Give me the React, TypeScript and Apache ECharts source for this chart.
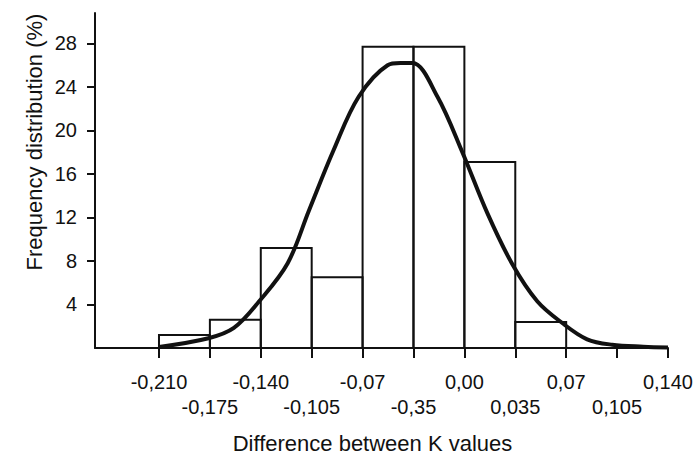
import React, { useEffect, useRef } from 'react';
import * as echarts from 'echarts';

// Histogram bins (difference between K values) and frequency (%)
const binStarts = [-0.21, -0.175, -0.14, -0.105, -0.07, -0.035, 0, 0.035];
const binEnds = [-0.175, -0.14, -0.105, -0.07, -0.035, 0, 0.035, 0.07];
const binFreq = [1.2, 2.6, 9.2, 6.5, 27.7, 27.7, 17.1, 2.4];

// Fitted distribution curve
const curveX = [-0.21, -0.176, -0.1585, -0.1414, -0.1215, -0.107, -0.0899, -0.0727, -0.0528, -0.044, -0.0357, -0.0185, -0.0014, 0.0158, 0.033, 0.0501, 0.0673, 0.0844, 0.1016, 0.123, 0.14];
const curveY = [0.1, 0.9, 1.85, 4.25, 7.8, 12.6, 18.2, 23.1, 26.0, 26.2, 26.2, 23.1, 18.0, 12.4, 7.7, 4.3, 2.3, 0.8, 0.3, 0.12, 0.05];

// Tick labels (as printed in the original)
const xTicks = [-0.21, -0.175, -0.14, -0.105, -0.07, -0.035, 0, 0.035, 0.07, 0.105, 0.14];
const upperTicks = [-0.21, -0.14, -0.07, 0, 0.07, 0.14];
const upperLabels = ['-0,210', '-0,140', '-0,07', '0,00', '0,07', '0,140'];
const lowerTicks = [-0.175, -0.105, -0.035, 0.035, 0.105];
const lowerLabels = ['-0,175', '-0,105', '-0,35', '0,035', '0,105'];
const yTicks = [4, 8, 12, 16, 20, 24, 28];

const FONT = "'Liberation Sans', Arial, Helvetica, sans-serif";
const INK = '#111';

function labelFor(v: number, ticks: number[], labels: string[]) {
  for (let i = 0; i < ticks.length; i++) {
    if (Math.abs(ticks[i] - v) < 1e-6) return labels[i];
  }
  return '';
}

export default function App() {
  const ref = useRef<HTMLDivElement>(null);

  useEffect(() => {
    if (!ref.current) return;
    const chart = echarts.init(ref.current, undefined, { renderer: 'svg' });
    const xMin = -0.254;
    const xMax = 0.14;
    chart.setOption({
      animation: false,
      backgroundColor: '#fff',
      grid: { left: 95, right: 28, top: 13, bottom: 111, containLabel: false },
      xAxis: [
        {
          type: 'value',
          min: xMin,
          max: xMax,
          position: 'bottom',
          name: 'Difference between K values',
          nameLocation: 'middle',
          nameGap: 84,
          nameTextStyle: { fontFamily: FONT, fontSize: 22, color: INK, padding: [0, 18, 0, 0] },
          axisLine: { show: true, onZero: false, lineStyle: { color: INK, width: 2 } },
          axisTick: { show: true, inside: false, length: 10, lineStyle: { color: INK, width: 2 }, customValues: xTicks },
          axisLabel: {
            show: true,
            margin: 24,
            fontFamily: FONT,
            fontSize: 20,
            color: INK,
            customValues: upperTicks,
            formatter: (v: number) => labelFor(v, upperTicks, upperLabels),
          },
          splitLine: { show: false },
        },
        {
          type: 'value',
          min: xMin,
          max: xMax,
          position: 'bottom',
          axisLine: { show: false, onZero: false },
          axisTick: { show: false },
          axisLabel: {
            show: true,
            margin: 49,
            fontFamily: FONT,
            fontSize: 20,
            color: INK,
            customValues: lowerTicks,
            formatter: (v: number) => labelFor(v, lowerTicks, lowerLabels),
          },
          splitLine: { show: false },
        },
      ],
      yAxis: {
        type: 'value',
        min: 0,
        max: 30.8,
        position: 'left',
        axisLine: { show: true, onZero: false, lineStyle: { color: INK, width: 2 } },
        axisTick: { show: true, inside: false, length: 8, lineStyle: { color: INK, width: 2 }, customValues: yTicks },
        axisLabel: {
          show: true,
          margin: 18,
          fontFamily: FONT,
          fontSize: 20,
          color: INK,
          customValues: yTicks,
        },
        splitLine: { show: false },
      },
      graphic: [
        {
          type: 'text',
          x: 34,
          y: 142,
          rotation: Math.PI / 2,
          style: {
            text: 'Frequency distribution (%)',
            font: `22px ${FONT}`,
            fill: INK,
            align: 'center',
            verticalAlign: 'middle',
          },
        },
      ],
      series: [
        {
          type: 'custom',
          name: 'Frequency',
          xAxisIndex: 0,
          encode: { x: [0, 1], y: 2 },
          data: binStarts.map((s, i) => [s, binEnds[i], binFreq[i]]),
          renderItem: (params: any, api: any) => {
            const p0 = api.coord([api.value(0), api.value(2)]);
            const p1 = api.coord([api.value(1), 0]);
            return {
              type: 'rect',
              shape: { x: p0[0], y: p0[1], width: p1[0] - p0[0], height: p1[1] - p0[1] },
              style: { fill: 'none', stroke: INK, lineWidth: 2 },
            };
          },
          z: 2,
        },
        {
          type: 'line',
          name: 'Fitted curve',
          xAxisIndex: 0,
          data: curveX.map((x, i) => [x, curveY[i]]),
          smooth: 0.35,
          symbol: 'none',
          lineStyle: { color: INK, width: 4 },
          z: 3,
        },
      ],
    });
    return () => chart.dispose();
  }, []);

  return (
    <div
      ref={ref}
      style={{ position: 'fixed', left: 0, top: 0, width: 696, height: 459, background: '#fff' }}
    />
  );
}
